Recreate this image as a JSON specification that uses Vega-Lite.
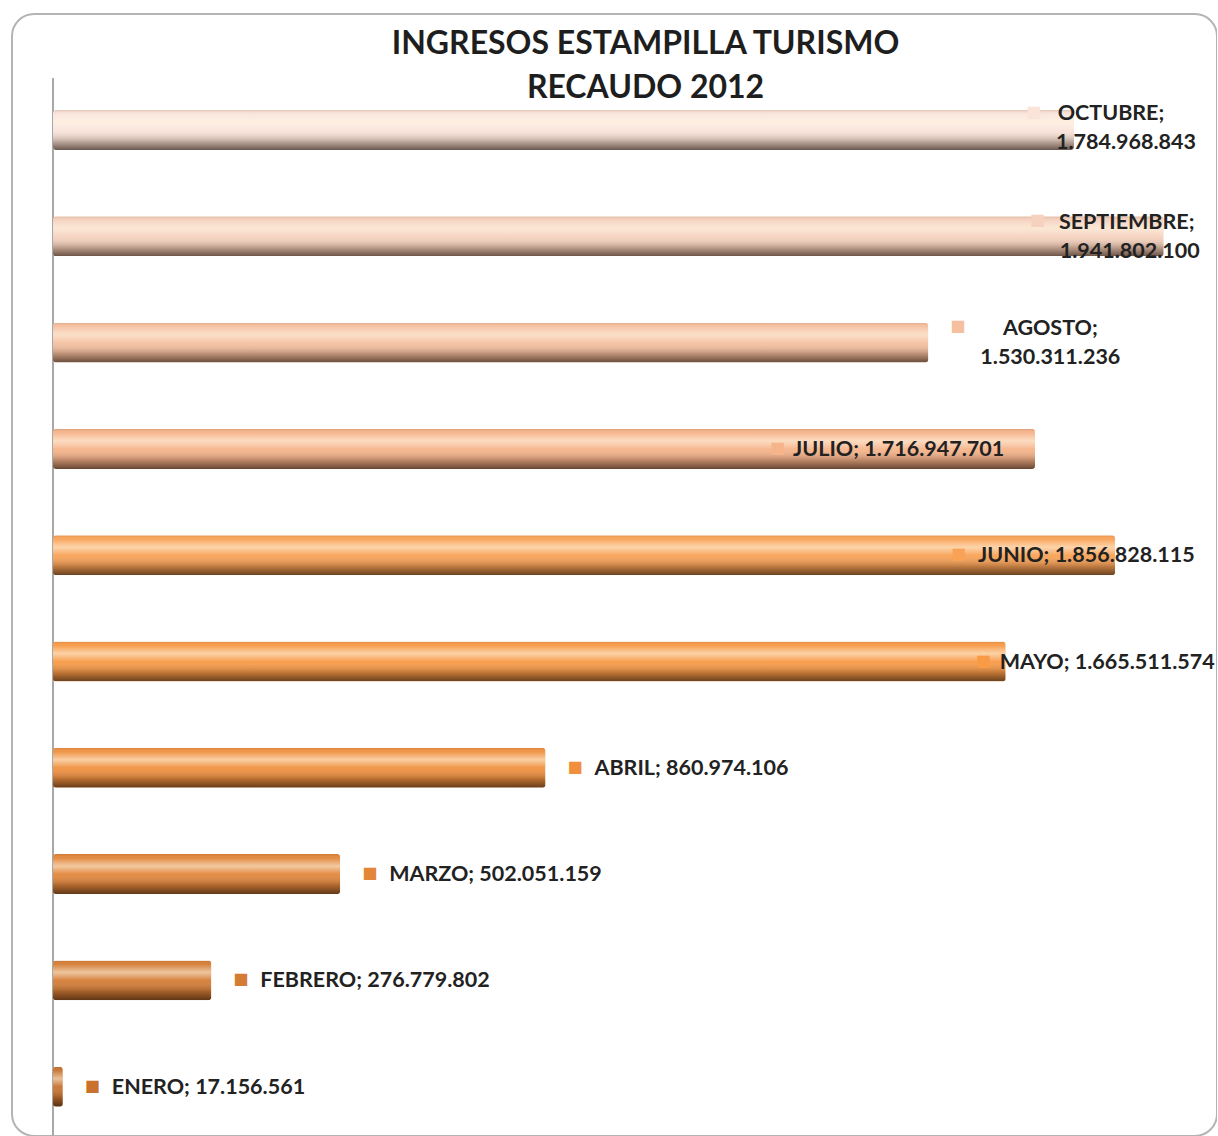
{
  "$schema": "https://vega.github.io/schema/vega-lite/v6.json",
  "width": 1205,
  "height": 1122,
  "padding": {"left": 12, "top": 14, "right": 0, "bottom": 0},
  "background": "white",
  "title": {
    "text": ["INGRESOS ESTAMPILLA TURISMO", "RECAUDO 2012"],
    "font": "Lato",
    "fontWeight": "bold",
    "fontSize": 32,
    "color": "#1e1e1e",
    "anchor": "middle",
    "lineHeight": 44,
    "baseline": "top",
    "offset": -91,
    "dx": 31
  },
  "data": {
    "values": [
      {"mes": "ENERO", "valor": 17156561},
      {"mes": "FEBRERO", "valor": 276779802},
      {"mes": "MARZO", "valor": 502051159},
      {"mes": "ABRIL", "valor": 860974106},
      {"mes": "MAYO", "valor": 1665511574},
      {"mes": "JUNIO", "valor": 1856828115},
      {"mes": "JULIO", "valor": 1716947701},
      {"mes": "AGOSTO", "valor": 1530311236},
      {"mes": "SEPTIEMBRE", "valor": 1941802100},
      {"mes": "OCTUBRE", "valor": 1784968843}
    ]
  },
  "transform": [
    {"calculate": "format(datum.valor, ',')", "as": "valor_txt"},
    {"calculate": "datum.mes + '; ' + datum.valor_txt", "as": "etiqueta"},
    {"calculate": "datum.mes + ';'", "as": "mes_txt"},
    {"calculate": "'■'", "as": "cuadro"}
  ],
  "encoding": {
    "y": {
      "field": "mes",
      "type": "nominal",
      "sort": ["OCTUBRE", "SEPTIEMBRE", "AGOSTO", "JULIO", "JUNIO", "MAYO", "ABRIL", "MARZO", "FEBRERO", "ENERO"],
      "scale": {"paddingInner": 0.624, "paddingOuter": 0.59, "align": 0.766},
      "axis": null
    },
    "x": {
      "field": "valor",
      "type": "quantitative",
      "scale": {"domain": [-71700000, 2035000000], "nice": false, "zero": false},
      "axis": null
    }
  },
  "layer": [
    {
      "mark": {"type": "rule", "color": "#a8a8a8", "strokeWidth": 2},
      "encoding": {
        "x": {"datum": 0, "type": "quantitative"},
        "y": {"field": "mes", "type": "nominal", "sort": ["OCTUBRE", "SEPTIEMBRE", "AGOSTO", "JULIO", "JUNIO", "MAYO", "ABRIL", "MARZO", "FEBRERO", "ENERO"], "bandPosition": -0.8},
        "y2": {"field": "mes", "bandPosition": 1.95}
      }
    },
    {
      "mark": {"type": "bar", "cornerRadius": 3},
      "encoding": {
        "color": {
          "field": "mes",
          "type": "nominal",
          "scale": {
            "domain": ["ENERO", "FEBRERO", "MARZO", "ABRIL", "MAYO", "JUNIO", "JULIO", "AGOSTO", "SEPTIEMBRE", "OCTUBRE"],
            "range": ["#c8722e", "#d47c34", "#e2863a", "#f0903e", "#f89a46", "#f9a255", "#f6b48a", "#f5c0a0", "#f6d2be", "#fae4da"]
          },
          "legend": null
        }
      }
    },
    {
      "mark": {
        "type": "bar",
        "cornerRadius": 3,
        "color": {
          "gradient": "linear",
          "x1": 0, "y1": 0, "x2": 0, "y2": 1,
          "stops": [
            {"offset": 0, "color": "rgba(120,60,20,0.18)"},
            {"offset": 0.1, "color": "rgba(255,255,255,0.05)"},
            {"offset": 0.3, "color": "rgba(255,245,225,0.6)"},
            {"offset": 0.5, "color": "rgba(255,255,255,0.05)"},
            {"offset": 0.78, "color": "rgba(40,20,10,0.28)"},
            {"offset": 1, "color": "rgba(30,15,5,0.66)"}
          ]
        }
      }
    },
    {
      "transform": [{"filter": {"field": "mes", "oneOf": ["ENERO", "FEBRERO", "MARZO", "ABRIL"]}}],
      "mark": {"type": "text", "align": "left", "baseline": "middle", "dx": 22, "dy": -1, "font": "DejaVu Sans", "fontSize": 16},
      "encoding": {"text": {"field": "cuadro"}, "color": {"field": "mes", "type": "nominal", "legend": null}}
    },
    {
      "transform": [{"filter": {"field": "mes", "oneOf": ["ENERO", "FEBRERO", "MARZO", "ABRIL"]}}],
      "mark": {"type": "text", "align": "left", "baseline": "middle", "dx": 49, "dy": 1, "font": "Lato", "fontWeight": "bold", "fontSize": 21.5, "color": "#222"},
      "encoding": {"text": {"field": "etiqueta"}}
    },
    {
      "transform": [{"filter": {"field": "mes", "equal": "MAYO"}}],
      "mark": {"type": "text", "align": "left", "baseline": "middle", "dx": -30, "dy": -1, "font": "DejaVu Sans", "fontSize": 16},
      "encoding": {"text": {"field": "cuadro"}, "color": {"field": "mes", "type": "nominal", "legend": null}}
    },
    {
      "transform": [{"filter": {"field": "mes", "equal": "MAYO"}}],
      "mark": {"type": "text", "align": "left", "baseline": "middle", "dx": -6, "dy": 1, "font": "Lato", "fontWeight": "bold", "fontSize": 21.5, "color": "#222"},
      "encoding": {"text": {"field": "etiqueta"}}
    },
    {
      "transform": [{"filter": {"field": "mes", "equal": "JUNIO"}}],
      "mark": {"type": "text", "align": "left", "baseline": "middle", "dx": -164, "dy": -1, "font": "DejaVu Sans", "fontSize": 16},
      "encoding": {"text": {"field": "cuadro"}, "color": {"field": "mes", "type": "nominal", "legend": null}}
    },
    {
      "transform": [{"filter": {"field": "mes", "equal": "JUNIO"}}],
      "mark": {"type": "text", "align": "left", "baseline": "middle", "dx": -137, "dy": 1, "font": "Lato", "fontWeight": "bold", "fontSize": 21.5, "color": "#222"},
      "encoding": {"text": {"field": "etiqueta"}}
    },
    {
      "transform": [{"filter": {"field": "mes", "equal": "JULIO"}}],
      "mark": {"type": "text", "align": "left", "baseline": "middle", "dx": -265, "dy": -1, "font": "DejaVu Sans", "fontSize": 16},
      "encoding": {"text": {"field": "cuadro"}, "color": {"field": "mes", "type": "nominal", "legend": null}}
    },
    {
      "transform": [{"filter": {"field": "mes", "equal": "JULIO"}}],
      "mark": {"type": "text", "align": "left", "baseline": "middle", "dx": -242, "dy": 1, "font": "Lato", "fontWeight": "bold", "fontSize": 21.5, "color": "#222"},
      "encoding": {"text": {"field": "etiqueta"}}
    },
    {
      "transform": [{"filter": {"field": "mes", "equal": "AGOSTO"}}],
      "mark": {"type": "text", "align": "left", "baseline": "middle", "dx": 22, "dy": -17, "font": "DejaVu Sans", "fontSize": 16},
      "encoding": {"text": {"field": "cuadro"}, "color": {"field": "mes", "type": "nominal", "legend": null}}
    },
    {
      "transform": [{"filter": {"field": "mes", "equal": "AGOSTO"}}],
      "mark": {"type": "text", "align": "center", "baseline": "middle", "dx": 122, "dy": -14, "font": "Lato", "fontWeight": "bold", "fontSize": 21.5, "color": "#222"},
      "encoding": {"text": {"field": "mes_txt"}}
    },
    {
      "transform": [{"filter": {"field": "mes", "equal": "AGOSTO"}}],
      "mark": {"type": "text", "align": "center", "baseline": "middle", "dx": 122, "dy": 15, "font": "Lato", "fontWeight": "bold", "fontSize": 21.5, "color": "#222"},
      "encoding": {"text": {"field": "valor_txt"}}
    },
    {
      "transform": [{"filter": {"field": "mes", "equal": "SEPTIEMBRE"}}],
      "mark": {"type": "text", "align": "left", "baseline": "middle", "dx": -134, "dy": -16, "font": "DejaVu Sans", "fontSize": 16},
      "encoding": {"text": {"field": "cuadro"}, "color": {"field": "mes", "type": "nominal", "legend": null}}
    },
    {
      "transform": [{"filter": {"field": "mes", "equal": "SEPTIEMBRE"}}],
      "mark": {"type": "text", "align": "center", "baseline": "middle", "dx": -37, "dy": -13, "font": "Lato", "fontWeight": "bold", "fontSize": 21.5, "color": "#222"},
      "encoding": {"text": {"field": "mes_txt"}}
    },
    {
      "transform": [{"filter": {"field": "mes", "equal": "SEPTIEMBRE"}}],
      "mark": {"type": "text", "align": "center", "baseline": "middle", "dx": -34, "dy": 16, "font": "Lato", "fontWeight": "bold", "fontSize": 21.5, "color": "#222"},
      "encoding": {"text": {"field": "valor_txt"}}
    },
    {
      "transform": [{"filter": {"field": "mes", "equal": "OCTUBRE"}}],
      "mark": {"type": "text", "align": "left", "baseline": "middle", "dx": -48, "dy": -18, "font": "DejaVu Sans", "fontSize": 16},
      "encoding": {"text": {"field": "cuadro"}, "color": {"field": "mes", "type": "nominal", "legend": null}}
    },
    {
      "transform": [{"filter": {"field": "mes", "equal": "OCTUBRE"}}],
      "mark": {"type": "text", "align": "center", "baseline": "middle", "dx": 37, "dy": -16, "font": "Lato", "fontWeight": "bold", "fontSize": 21.5, "color": "#222"},
      "encoding": {"text": {"field": "mes_txt"}}
    },
    {
      "transform": [{"filter": {"field": "mes", "equal": "OCTUBRE"}}],
      "mark": {"type": "text", "align": "center", "baseline": "middle", "dx": 52, "dy": 13, "font": "Lato", "fontWeight": "bold", "fontSize": 21.5, "color": "#222"},
      "encoding": {"text": {"field": "valor_txt"}}
    }
  ],
  "config": {
    "view": {"stroke": "#b4b4b4", "strokeWidth": 2, "cornerRadius": 22},
    "locale": {"number": {"decimal": ",", "thousands": ".", "grouping": [3], "currency": ["$", ""]}}
  }
}
